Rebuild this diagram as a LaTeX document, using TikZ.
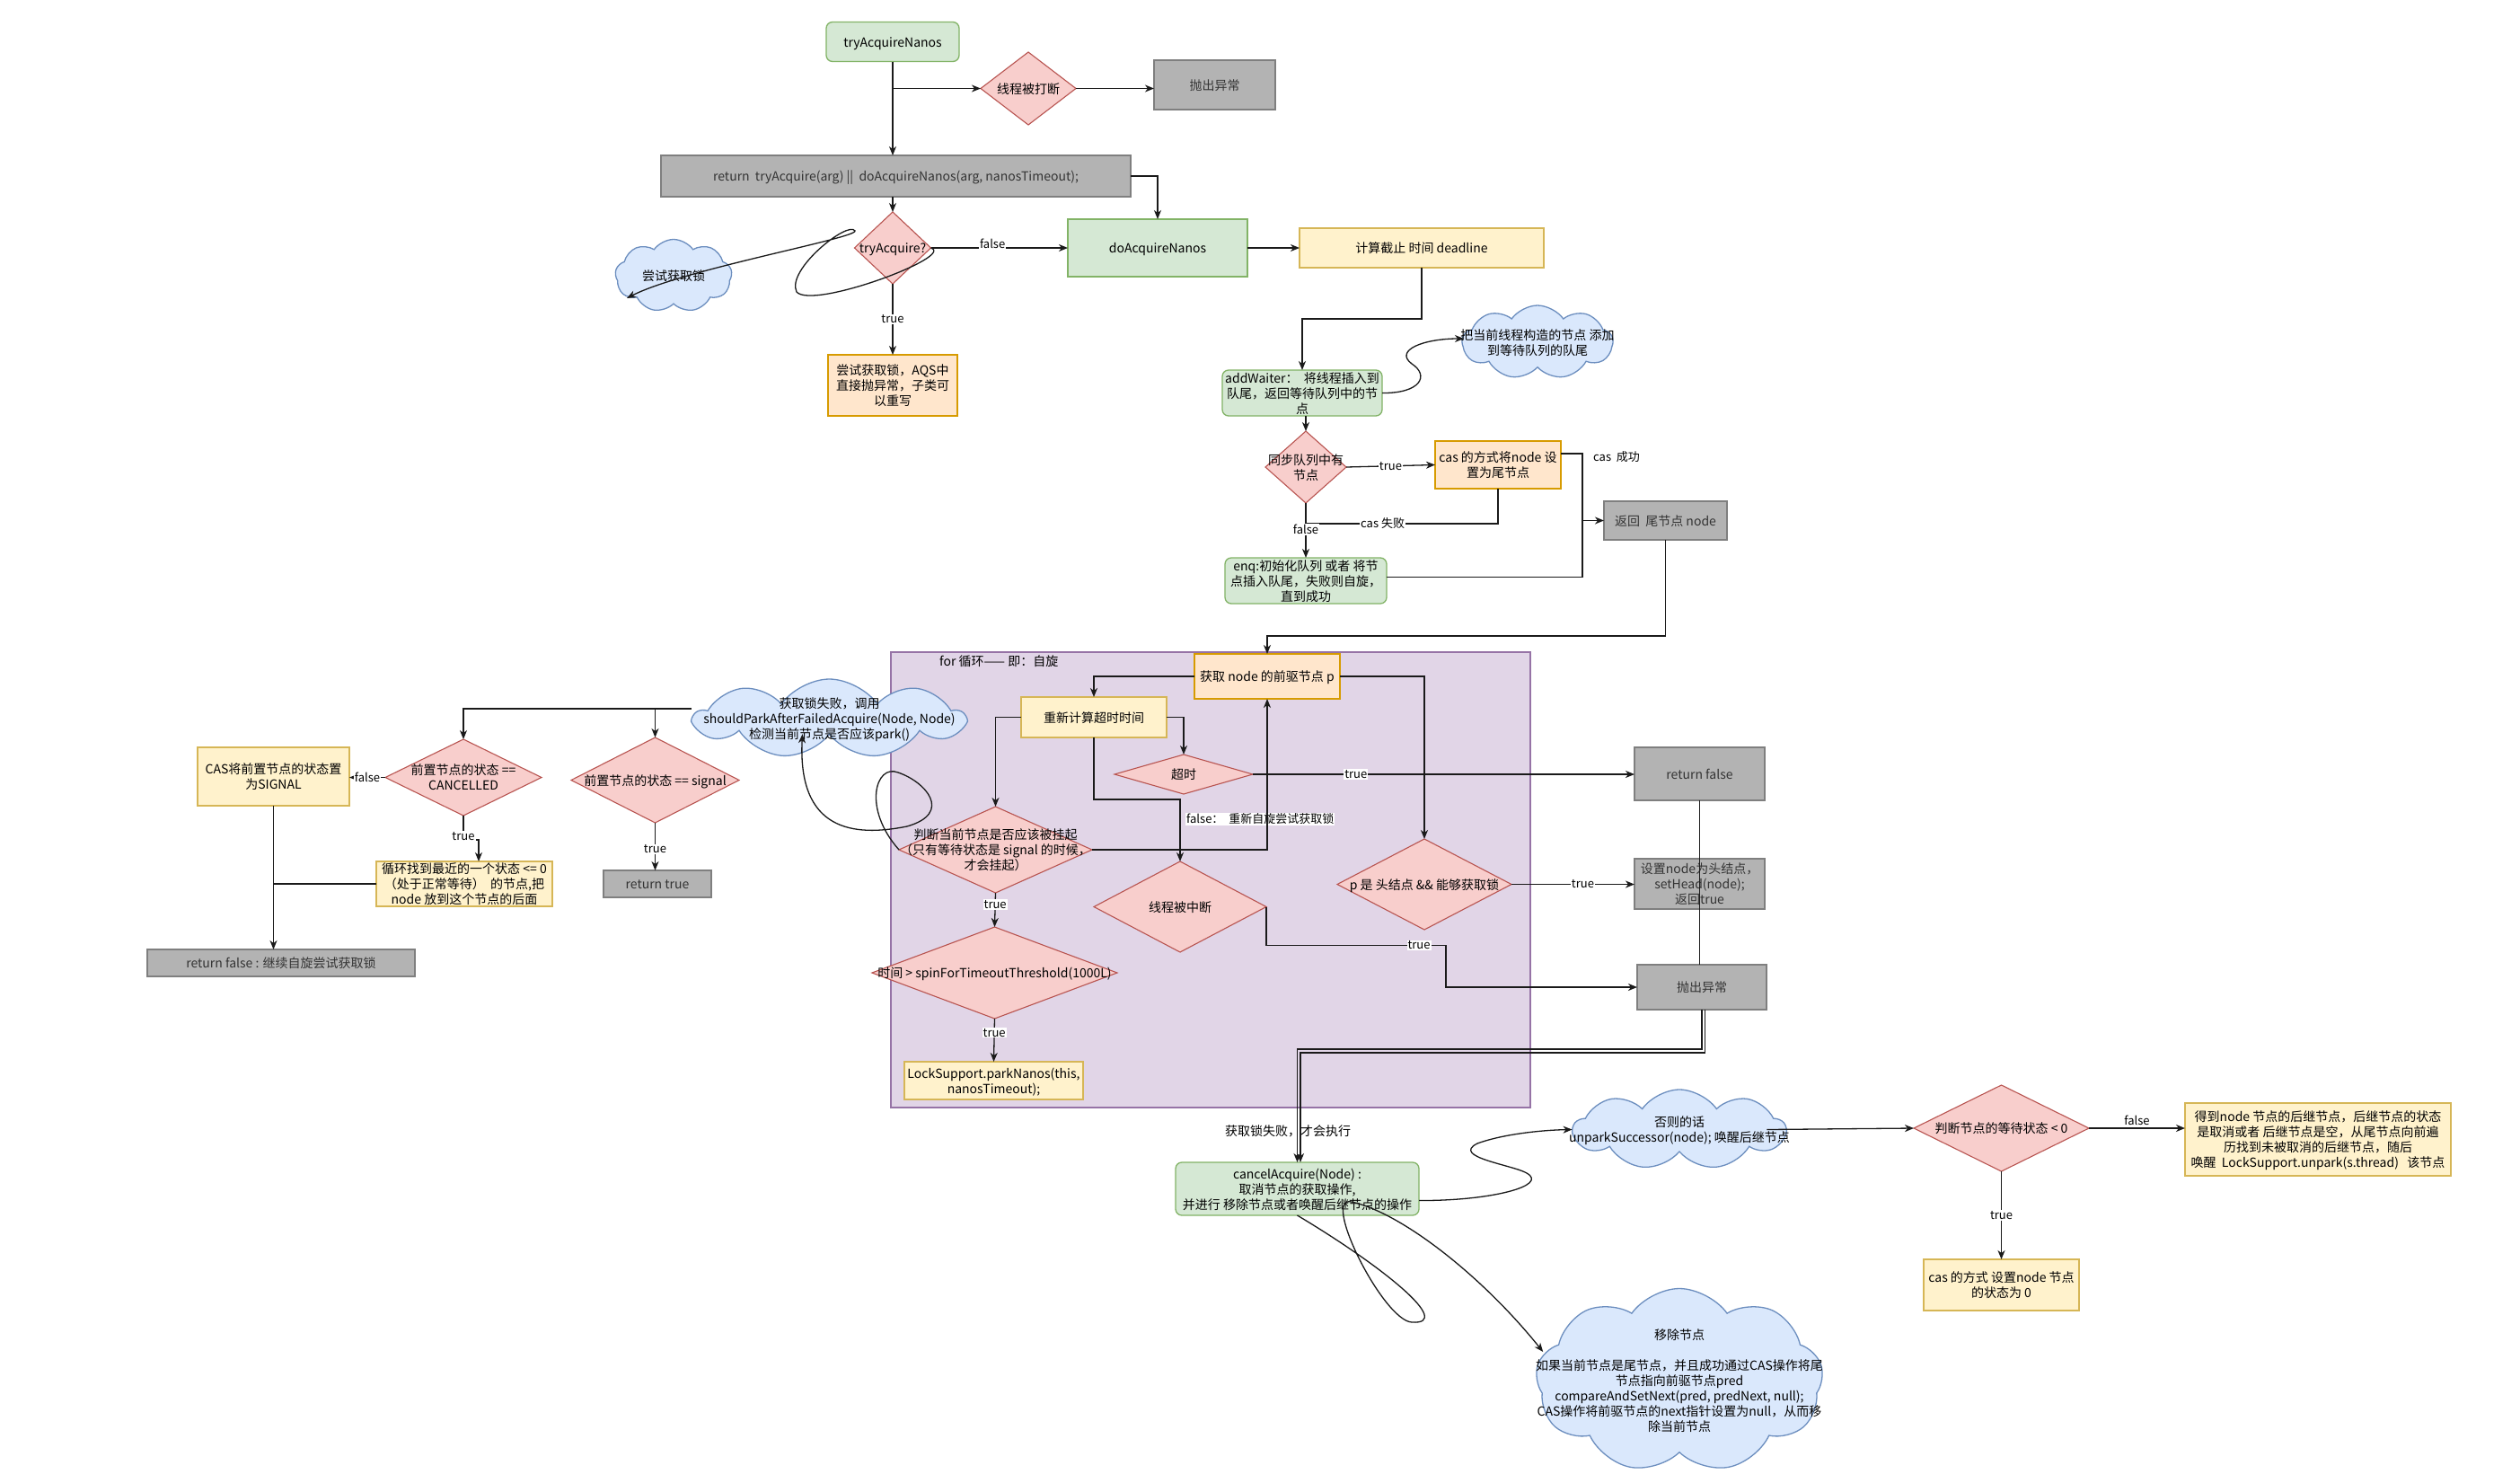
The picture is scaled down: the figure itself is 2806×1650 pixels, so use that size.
\documentclass[tikz,border=0pt]{standalone}
\usepackage{fontspec}
\setmainfont{Noto Sans CJK SC}
\usetikzlibrary{shapes.geometric,shapes.symbols,arrows.meta}
\definecolor{gF}{HTML}{D5E8D4}\definecolor{gS}{HTML}{82B366}
\definecolor{rF}{HTML}{F8CECC}\definecolor{rS}{HTML}{B85450}
\definecolor{yF}{HTML}{FFF2CC}\definecolor{yS}{HTML}{D6B656}
\definecolor{oF}{HTML}{FFE6CC}\definecolor{oS}{HTML}{D79B00}
\definecolor{pF}{HTML}{E1D5E7}\definecolor{pS}{HTML}{9673A6}
\definecolor{bF}{HTML}{DAE8FC}\definecolor{bS}{HTML}{6C8EBF}
\definecolor{kF}{HTML}{B3B3B3}\definecolor{kS}{HTML}{7F7F7F}\definecolor{kT}{HTML}{333333}
\definecolor{lC}{HTML}{1A1A1A}
\newcommand{\fsn}{\fontsize{14}{17}\selectfont}
\newcommand{\fsl}{\fontsize{13}{15}\selectfont}
\newcommand{\zt}[1]{\makebox[0pt]{\raisebox{\dimexpr-0.25em-2.5pt\relax}[0pt][0pt]{\begin{tabular}{@{}c@{}}#1\end{tabular}}}}
\tikzset{
  base/.style={inner sep=0pt, outer sep=0pt, font=\fsn},
  gbox/.style={base, rectangle, draw=gS, fill=gF, line width=1.3pt},
  grnd/.style={gbox, rounded corners=7pt},
  ybox/.style={base, rectangle, draw=yS, fill=yF, line width=1.3pt},
  obox/.style={base, rectangle, draw=oS, fill=oF, line width=1.3pt},
  kbox/.style={base, rectangle, draw=kS, fill=kF, line width=1.3pt, text=kT},
  dia/.style={base, diamond, draw=rS, fill=rF, line width=1.1pt},
  cld/.style={base, cloud, cloud puffs=9, cloud puff arc=110, cloud ignores aspect, draw=bS, fill=bF, line width=1.3pt},
  ln/.style={draw=lC, line width=1.3pt},
  arr/.style={ln, -{Stealth[length=10pt,width=8pt,inset=3pt]}},
  lbl/.style={font=\fsl, fill=white, inner sep=1pt},
  plbl/.style={font=\fsl, inner sep=1pt},
  tlbl/.style={font=\fsn, inner sep=1pt}
}
\begin{document}
\begin{tikzpicture}[x=1pt,y=-1pt]
\fill[white] (0,0) rectangle (2806,1650);
\useasboundingbox (0,0) rectangle (2806,1650);

% loop region
\node[base, draw=pS, fill=pF, line width=1.3pt, minimum width=712pt, minimum height=507pt] (loop) at (1348,979.5) {};
\node[tlbl, anchor=west] (looplbl) at (1045,736) {for 循环—— 即：自旋};

% top part
\node[grnd, minimum width=148pt, minimum height=44pt] (n1) at (994,46.5) {\zt{tryAcquireNanos}};
\node[dia, minimum width=106pt, minimum height=81pt] (d1) at (1145,98.5) {\zt{线程被打断}};
\node[kbox, minimum width=135pt, minimum height=55pt] (n2) at (1352.5,94.5) {\zt{抛出异常}};
\node[kbox, minimum width=523pt, minimum height=46pt] (n3) at (997.5,196) {\zt{return~~tryAcquire(arg) ||~~doAcquireNanos(arg, nanosTimeout);}};
\node[dia, minimum width=85pt, minimum height=80pt] (d2) at (994,276) {\zt{tryAcquire?}};
\node[gbox, minimum width=200pt, minimum height=64pt] (n4) at (1289,276) {\zt{doAcquireNanos}};
\node[obox, minimum width=144pt, minimum height=68pt] (n5) at (994,429) {\zt{尝试获取锁，AQS中\\直接抛异常，子类可\\以重写}};
\node[cld, minimum width=130pt, minimum height=81pt] (c1) at (750,307) {\zt{尝试获取锁}};
\node[ybox, minimum width=272pt, minimum height=44pt] (n6) at (1583,276) {\zt{计算截止 时间 deadline}};
\node[grnd, minimum width=178pt, minimum height=51pt] (n7) at (1450,437.5) {\zt{addWaiter：~~将线程插入到\\队尾，返回等待队列中的节\\点}};
\node[cld, minimum width=168pt, minimum height=82pt] (c2) at (1712,381) {\zt{把当前线程构造的节点 添加\\到等待队列的队尾}};
\node[dia, minimum width=90pt, minimum height=80pt] (d3) at (1454,520) {\zt{同步队列中有\\节点}};
\node[obox, minimum width=140pt, minimum height=53pt] (n8) at (1668,517.5) {\zt{cas 的方式将node 设\\置为尾节点}};
\node[kbox, minimum width=137pt, minimum height=43pt] (n9) at (1854.5,579.5) {\zt{返回~~尾节点 node}};
\node[grnd, minimum width=180pt, minimum height=51pt] (n10) at (1454,646.5) {\zt{enq:初始化队列 或者 将节\\点插入队尾，失败则自旋，\\直到成功}};

% loop content
\node[obox, minimum width=162pt, minimum height=50pt] (n11) at (1411,753) {\zt{获取 node 的前驱节点 p}};
\node[ybox, minimum width=162pt, minimum height=45pt] (n12) at (1218,798.5) {\zt{重新计算超时时间}};
\node[dia, minimum width=154pt, minimum height=44pt] (d4) at (1318,862) {\zt{超时}};
\node[dia, minimum width=215pt, minimum height=96pt] (d5) at (1108.5,946) {\zt{判断当前节点是否应该被挂起\\（只有等待状态是 signal 的时候，\\才会挂起）}};
\node[dia, minimum width=192pt, minimum height=101pt] (d6) at (1314,1009.5) {\zt{线程被中断}};
\node[dia, minimum width=194pt, minimum height=101pt] (d7) at (1586,984.5) {\zt{p 是 头结点 \&\& 能够获取锁}};
\node[dia, minimum width=273pt, minimum height=102pt] (d8) at (1107.5,1083) {\zt{时间 > spinForTimeoutThreshold(1000L)}};
\node[ybox, minimum width=199pt, minimum height=42pt] (n13) at (1106.5,1203) {\zt{LockSupport.parkNanos(this,\\nanosTimeout);}};
\node[cld, minimum width=300pt, minimum height=88pt] (c3) at (923.5,800) {\zt{获取锁失败，调用\\shouldParkAfterFailedAcquire(Node, Node)\\检测当前节点是否应该park()}};

% right column
\node[kbox, minimum width=145pt, minimum height=59pt] (n14) at (1892.5,861.5) {\zt{return false}};
\node[kbox, minimum width=145pt, minimum height=56pt] (n15) at (1892.5,984) {\zt{设置node为头结点，\\setHead(node);\\返回true}};
\node[kbox, minimum width=144pt, minimum height=50pt] (n16) at (1895,1099) {\zt{抛出异常}};

% left part
\node[dia, minimum width=174pt, minimum height=85pt] (d9) at (516,865.5) {\zt{前置节点的状态 ==\\CANCELLED}};
\node[dia, minimum width=187pt, minimum height=95pt] (d10) at (729.5,868.5) {\zt{前置节点的状态 == signal}};
\node[kbox, minimum width=120pt, minimum height=30pt] (n17) at (732,984) {\zt{return true}};
\node[ybox, minimum width=169pt, minimum height=65pt] (n18) at (304.5,864.5) {\zt{CAS将前置节点的状态置\\为SIGNAL}};
\node[ybox, minimum width=196pt, minimum height=50pt] (n19) at (517,984) {\zt{循环找到最近的一个状态 <= 0\\（处于正常等待）~~的节点,把\\node 放到这个节点的后面}};
\node[kbox, minimum width=298pt, minimum height=30pt] (n20) at (313,1072) {\zt{return false : 继续自旋尝试获取锁}};

% bottom part
\node[grnd, minimum width=271pt, minimum height=59pt] (n21) at (1444.5,1323.5) {\zt{cancelAcquire(Node) :\\取消节点的获取操作,\\并进行 移除节点或者唤醒后继节点的操作}};
\node[cld, minimum width=236pt, minimum height=89pt] (c4) at (1870,1257.5) {\zt{否则的话\\unparkSuccessor(node); 唤醒后继节点}};
\node[dia, minimum width=195pt, minimum height=96pt] (d11) at (2228.5,1256) {\zt{判断节点的等待状态 < 0}};
\node[ybox, minimum width=296pt, minimum height=81pt] (n22) at (2581,1268.5) {\zt{得到node 节点的后继节点，后继节点的状态\\是取消或者 后继节点是空，从尾节点向前遍\\历找到未被取消的后继节点，随后\\唤醒~~LockSupport.unpark(s.thread)~~~该节点}};
\node[ybox, minimum width=173pt, minimum height=57pt] (n23) at (2228.5,1430.5) {\zt{cas 的方式 设置node 节点\\的状态为 0}};
\node[cld, minimum width=320pt, minimum height=205pt] (c5) at (1870,1537) {\zt{移除节点\\ \\如果当前节点是尾节点，并且成功通过CAS操作将尾\\节点指向前驱节点pred\\compareAndSetNext(pred, predNext, null);\\CAS操作将前驱节点的next指针设置为null，从而移\\除当前节点}};

% ---- connectors ----
\draw[arr] (n1.south) -- (n1.south |- n3.north);
\draw[arr] (n1.south) |- (d1.west);
\draw[arr] (d1.east) -- (d1.east -| n2.west);
\draw[arr] (n3.east) -| (n4.north);
\draw[arr] (n3.south -| d2.north) -- (d2.north);
\draw[arr] (d2.east) -- node[lbl, pos=0.45, yshift=5pt] {false} (n4.west);
\draw[arr] (d2.south) -- node[lbl, pos=0.5] {true} (n5.north);
\draw[arr] (d2.east) .. controls (1065,285) and (905,345) .. (887,325) .. controls (875,300) and (945,245) .. (952,257) .. controls (955,265) and (760,300) .. ([xshift=-52pt,yshift=-25pt]c1.center);
\draw[arr] (n4.east) -- (n6.west);
\draw[arr] (n6.south) -- ++(0,57) -| (n7.north);
\draw[arr] (n7.east) .. controls (1582,438) and (1592,418) .. (1572,405) .. controls (1552,390) and (1585,377) .. ([xshift=-82pt,yshift=4pt]c2.center);
\draw[arr] (n7.south -| d3.north) -- (d3.north);
\draw[arr] (d3.east) -- node[lbl, pos=0.5] {true} (n8.west);
\draw[arr] ([yshift=-14pt]n8.north east) -- ++(24,0) |- (n9.west);
\node[plbl, anchor=west] (lcas) at (1773,509) {cas~~成功};
\draw[ln] ([yshift=4pt]n10.east) -| ([xshift=-24pt]n9.west);
\draw[ln] (n8.south) |- node[lbl, pos=0.8] {cas 失败} ([yshift=-23pt]d3.south);
\draw[arr] (d3.south) -- node[lbl, pos=0.48] {false} (n10.north);
\draw[arr] (n9.south) -- ++(0,107) -| (n11.north);

\draw[arr] (n11.west) -| (n12.north);
\draw[arr] (n12.east) -| (d4.north);
\draw[arr] (d4.east) -- node[lbl, pos=0.27] {true} (d4.east -| n14.west);
\draw[arr] (n12.west) -| (d5.north);
\draw[arr] (n12.south) -- ++(0,69) -| (d6.north);
\node[lbl, anchor=west] (lfalse) at (1320,912) {false：~~重新自旋尝试获取锁};
\draw[arr] (d5.east) -| (n11.south);
\draw[arr] (n11.east) -| (d7.north);
\draw[arr] (d7.east) -- node[lbl, pos=0.58] {true} (d7.east -| n15.west);
\draw[arr] (d6.east) -- ++(0,43) -- node[lbl, pos=0.85] {true} ++(200,0) |- (n16.west);
\draw[arr] (d5.south) -- node[lbl, pos=0.34] {true} (d8.north);
\draw[arr] (d8.south) -- node[lbl, pos=0.33] {true} (n13.north);
\draw[arr] (d5.west) .. controls (960,900) and (975,850) .. (1000,860) .. controls (1030,870) and (1062,905) .. (1010,920) .. controls (950,932) and (888,925) .. ([xshift=-30pt]c3.south);

\draw[arr] ([yshift=11pt]c3.west) -| (d9.north);
\draw[arr] ([yshift=11pt]c3.west) -| (d10.north);
\draw[arr] (d9.west) -- node[lbl, pos=0.5] {false} (d9.west -| n18.east);
\draw[arr] (d9.south) -- ++(0,27) node[lbl, pos=0.85] {true} -| ([xshift=16pt]n19.north);
\draw[arr] (d10.south) -- node[lbl, pos=0.55] {true} (d10.south |- n17.north);
\draw[arr] (n18.south) -- (n18.south |- n20.north);
\draw[ln] (n19.west) -- (n18.south |- n19.west);

\draw[ln] (n14.south) -- (n14.south |- n16.north);
\draw[arr, line width=1.5pt] (n16.south) -- ++(0,44) -| (n21.north);
\draw[arr, line width=1.5pt] ([xshift=3.5pt]n16.south) -- ++(0,48) -| ([xshift=3.5pt]n21.north);
\node[tlbl] (lfail) at (1434,1259) {获取锁失败，才会执行};

\draw[arr] ([yshift=-13pt]n21.east) .. controls (1660,1337) and (1725,1320) .. (1700,1306) .. controls (1685,1297) and (1615,1288) .. (1645,1273) .. controls (1675,1262) and (1720,1258) .. (c4.west);
\draw[arr] (n21.south) .. controls (1540,1410) and (1620,1475) .. (1572,1472) .. controls (1540,1470) and (1470,1330) .. (1505,1338) .. controls (1560,1350) and (1650,1420) .. ([xshift=7pt,yshift=32pt]c5.west);
\draw[arr] ([xshift=-22pt]c4.east) -- (d11.west);
\draw[arr] (d11.east) -- node[plbl, above=2pt] {false} (d11.east -| n22.west);
\draw[arr] (d11.south) -- node[lbl, pos=0.5] {true} (n23.north);
\end{tikzpicture}
\end{document}
